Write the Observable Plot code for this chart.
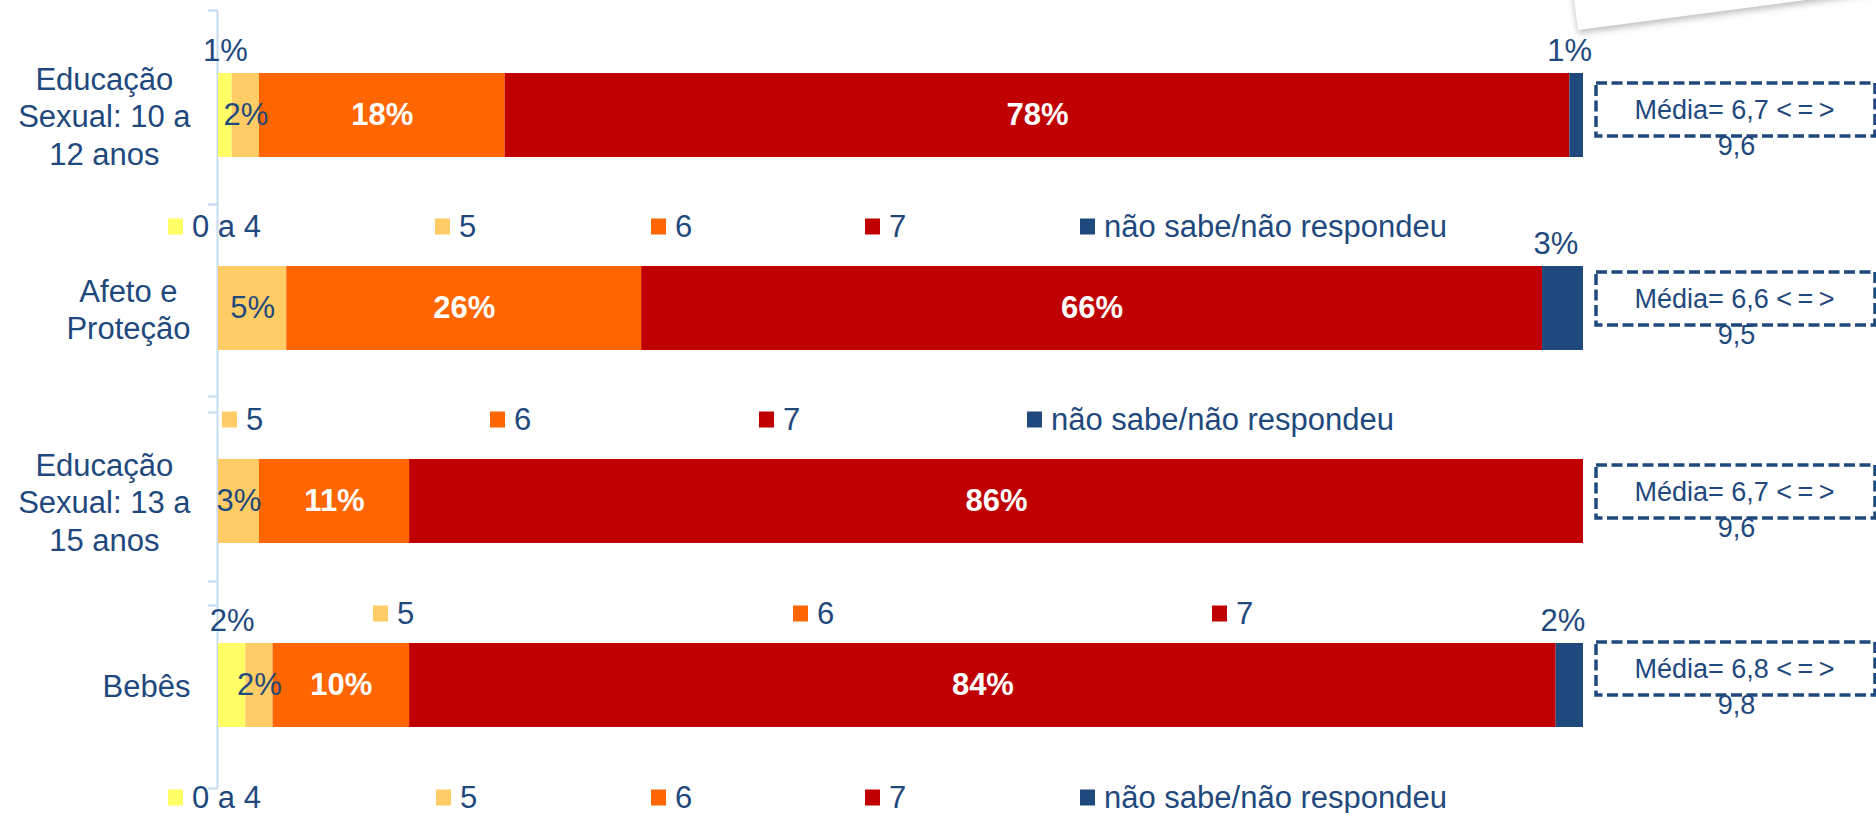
<!DOCTYPE html>
<html><head><meta charset="utf-8">
<script src="https://cdn.jsdelivr.net/npm/d3@7"></script>
<script src="https://cdn.jsdelivr.net/npm/@observablehq/plot@0.6"></script>
<style>
body{margin:0;background:#fff;}
#root{position:relative;width:1876px;height:813px;overflow:hidden;background:#fff;font-family:"Liberation Sans",Arial,sans-serif;color:#1F497D;}
.chart{position:absolute;left:0;}
.legend{position:absolute;left:0;width:1876px;height:0;}
.item{position:absolute;top:0;transform:translateY(-50%);display:flex;align-items:center;font-size:31px;white-space:nowrap;line-height:1;}
.sw{width:15px;height:16px;margin-right:9px;flex:none;}
.paper{position:absolute;left:1578px;top:-70px;width:320px;height:100px;background:#fff;transform-origin:0 100%;transform:rotate(-7.5deg);box-shadow:0 3px 7px rgba(0,0,0,0.28);}
</style></head>
<body><div id="root"><div class="paper"></div></div>
<script>
// ---- data ----
const grupos = ["Educação\nSexual: 10 a\n12 anos", "Afeto e\nProteção", "Educação\nSexual: 13 a\n15 anos", "Bebês"];
const respostas = ["0 a 4", "5", "6", "7", "não sabe/não respondeu"];
const valores0a4 = [1, 0, 0, 2];
const valores5 = [2, 5, 3, 2];
const valores6 = [18, 26, 11, 10];
const valores7 = [78, 66, 86, 84];
const valoresNs = [1, 3, 0, 2];
const medias = [6.7, 6.6, 6.7, 6.8];
const equivalentes = [9.6, 9.5, 9.6, 9.8];
const cores = ["#FFFF66", "#FFCC66", "#FF6600", "#C00000", "#1F497D"];

// ---- styling / layout ----
const azul = "#1F497D";
const eixo = "#C6DBF0";
const fonte = '"Liberation Sans", Arial, sans-serif';
const fs = 31;
const barH = 84, boxH = 53;
const layout = [
  {top: 10,  H: 194, axisLen: 194, barTop: 63, boxTop: 73, legendY: 226, legendX: [168, 435, 651, 865, 1080]},
  {top: 204, H: 208, axisLen: 192, barTop: 62, boxTop: 68, legendY: 419, legendX: [222, 490, 759, 1027]},
  {top: 412, H: 193, axisLen: 169, barTop: 47, boxTop: 53, legendY: 613, legendX: [373, 793, 1212]},
  {top: 605, H: 183, axisLen: 183, barTop: 38, boxTop: 37, legendY: 797, legendX: [168, 436, 651, 865, 1080]}
];

const series = [valores0a4, valores5, valores6, valores7, valoresNs];
const table = grupos.flatMap((g, i) => respostas.map((r, j) => ({grupo: g, resposta: r, valor: series[j][i]})))
  .filter(d => d.valor > 0);
const pct = v => `${v}%`;
const dec = v => String(v).replace(".", ",");

const canvas = document.createElement("canvas");
const ctx = canvas.getContext("2d");
ctx.font = `${fs}px ${fonte}`;

const root = document.getElementById("root");

grupos.forEach((g, i) => {
  const L = layout[i];
  const rows = table.filter(d => d.grupo === g);
  const mid = L.H / 2;
  const barDy = L.barTop + barH / 2 - mid;
  const aboveDy = barDy - barH / 2 - 22;
  const boxDy = L.boxTop + boxH / 2 - mid;
  const base = {x: "valor", y: "grupo", z: "resposta", order: respostas};
  const lbl = (cond, opts) => Plot.text(rows, Plot.stackX({...base, text: d => cond(d.resposta) ? pct(d.valor) : "", fontSize: fs, ...opts}));
  const widest = d3.max(g.split("\n"), s => ctx.measureText(s).width);
  const labelDx = -28 - widest / 2;

  const chart = Plot.plot({
    width: 1876, height: L.H,
    marginLeft: 218, marginRight: 293, marginTop: 0, marginBottom: 0,
    x: {domain: [0, 100], axis: null},
    y: {type: "band", domain: [g], padding: 0, axis: null},
    color: {domain: respostas, range: cores},
    style: {fontFamily: fonte, background: "transparent", overflow: "visible"},
    marks: [
      Plot.ruleX([0], {stroke: eixo, strokeWidth: 2, dx: -1}),
      Plot.ruleY([g], {y: d => d, x1: 0, x2: 0, insetLeft: -10, stroke: eixo, strokeWidth: 2, dy: -mid}),
      Plot.ruleY([g], {y: d => d, x1: 0, x2: 0, insetLeft: -10, stroke: eixo, strokeWidth: 2, dy: L.axisLen - mid}),
      Plot.barX(rows, {...base, fill: "resposta", insetTop: L.barTop, insetBottom: L.H - L.barTop - barH}),
      lbl(r => r === respostas[1], {fill: azul, dy: barDy}),
      lbl(r => r === respostas[2] || r === respostas[3], {fill: "white", fontWeight: "bold", dy: barDy}),
      lbl(r => r === respostas[0], {fill: azul, dy: aboveDy}),
      lbl(r => r === respostas[4], {fill: azul, dy: aboveDy, dx: -7}),
      Plot.text([g], {y: d => d, text: d => d, frameAnchor: "left", dx: labelDx, dy: barDy,
        textAnchor: "middle", lineAnchor: "middle", lineHeight: 1.2, fontSize: fs, fill: azul}),
      Plot.barX([g], {x1: () => 100, x2: () => 100, y: d => d, insetLeft: 13, insetRight: -292,
        insetTop: L.boxTop, insetBottom: L.H - L.boxTop - boxH,
        fill: "none", stroke: azul, strokeWidth: 3.5, strokeDasharray: "11,4.5"}),
      Plot.text([i], {x: () => 100, y: () => g, text: j => `Média= ${dec(medias[j])} <\u2009=\u2009>`,
        dx: 151, dy: boxDy, fontSize: 27, fill: azul}),
      Plot.text([i], {x: () => 100, y: () => g, text: j => dec(equivalentes[j]),
        dx: 153, dy: L.boxTop + boxH + 10 - mid, fontSize: 27, fill: azul})
    ]
  });
  chart.classList.add("chart");
  chart.style.top = L.top + "px";
  root.appendChild(chart);

  // legend below each bar
  const leg = document.createElement("div");
  leg.className = "legend";
  leg.style.top = L.legendY + "px";
  const present = respostas.filter(r => rows.some(d => d.resposta === r));
  present.forEach((r, k) => {
    const it = document.createElement("div");
    it.className = "item";
    it.style.left = L.legendX[k] + "px";
    const sw = document.createElement("span");
    sw.className = "sw";
    sw.style.background = cores[respostas.indexOf(r)];
    const tx = document.createElement("span");
    tx.textContent = r;
    it.appendChild(sw); it.appendChild(tx);
    leg.appendChild(it);
  });
  root.appendChild(leg);
});
</script></body></html>
